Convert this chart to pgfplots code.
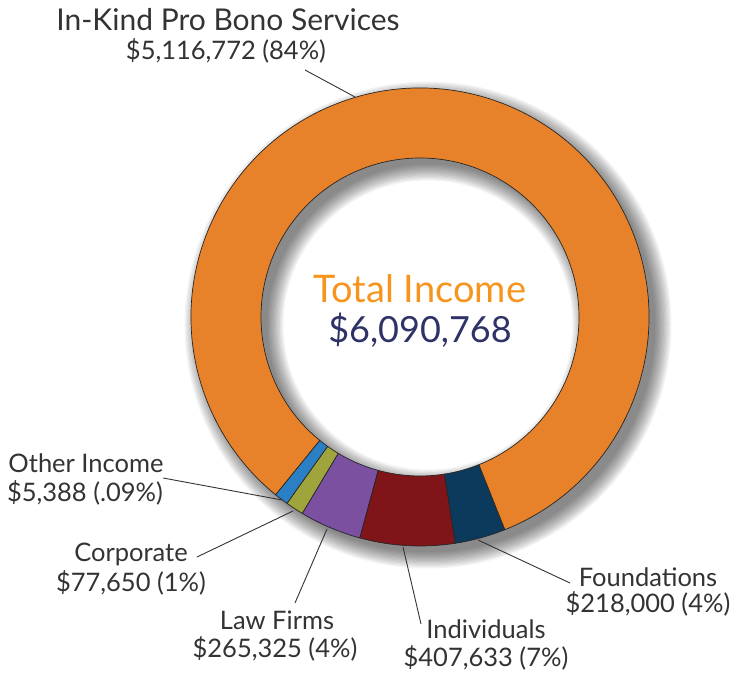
\documentclass[border=0pt]{standalone}
\usepackage{pgfplots}
\pgfplotsset{compat=1.18}
\usepackage{pgfplotstable}
\usepackage{fontspec}
\setmainfont{Lato}

\definecolor{cKind}{HTML}{E8822A}
\definecolor{cFound}{HTML}{0B3A5C}
\definecolor{cInd}{HTML}{7F1518}
\definecolor{cLaw}{HTML}{7B50A0}
\definecolor{cCorp}{HTML}{A0A43C}
\definecolor{cOther}{HTML}{2B80C5}
\definecolor{titleorange}{HTML}{F7941E}
\definecolor{totalblue}{HTML}{2E3267}
\definecolor{labelgray}{HTML}{333333}

% income by source, counter-clockwise from "Other Income"
\pgfplotstableread[col sep=comma]{
source,value
Other,5388
Corporate,77650
LawFirms,265325
Individuals,407633
Foundations,218000
InKind,5116772
}\incometable

\def\T{6090768}
% sweep of each slice; the tiny "other" slice gets a minimum visible sweep
\pgfplotstablegetelem{0}{value}\of\incometable \let\vA\pgfplotsretval
\pgfplotstablegetelem{1}{value}\of\incometable \let\vB\pgfplotsretval
\pgfplotstablegetelem{2}{value}\of\incometable \let\vC\pgfplotsretval
\pgfplotstablegetelem{3}{value}\of\incometable \let\vD\pgfplotsretval
\pgfplotstablegetelem{4}{value}\of\incometable \let\vE\pgfplotsretval
\xdef\aA{-129.1}
\xdef\aB{\fpeval{round(\aA+max(\vA/\T*360,3.6),3)}}
\xdef\aC{\fpeval{round(\aB+\vB/\T*360,3)}}
\xdef\aD{\fpeval{round(\aC+\vC/\T*360,3)}}
\xdef\aE{\fpeval{round(\aD+\vD/\T*360,3)}}
\xdef\aF{\fpeval{round(\aE+\vE/\T*360,3)}}
\xdef\aG{\fpeval{round(\aA+360,3)}}

\newcommand\seg[3]{%
  \fill[#1, draw=black!85, line width=0.7bp]
    ([shift={(#2:229bp)}]axis cs:420,358) arc[start angle=#2, end angle=#3, radius=229bp]
    -- ([shift={(#3:159bp)}]axis cs:420,358) arc[start angle=#3, end angle=#2, radius=159bp]
    -- cycle;}

\begin{document}
\begin{tikzpicture}[
  lab/.style={text=labelgray, anchor=base, inner sep=0pt,
    font=\fontsize{25.5bp}{29bp}\selectfont},
  lead/.style={draw=labelgray, line width=0.9bp},
]
\begin{axis}[
  x=1bp, y=1bp,
  xmin=0, xmax=730, ymin=0, ymax=675,
  enlargelimits=false,
  hide axis, clip=false,
]
\coordinate (bbSW) at (axis cs:0,0);
\coordinate (bbNE) at (axis cs:730,675);

% soft drop shadow of the ring
\pgfplotsinvokeforeach{1,...,14}{
  \draw[black, opacity=0.045, line width=(64+2.5*#1)*1bp] (axis cs:428,350) circle[radius=194bp];
}

\seg{cOther}{\aA}{\aB}
\seg{cCorp}{\aB}{\aC}
\seg{cLaw}{\aC}{\aD}
\seg{cInd}{\aD}{\aE}
\seg{cFound}{\aE}{\aF}
\seg{cKind}{\aF}{\aG}

% centre
\node[anchor=base, inner sep=0pt, text=titleorange, font=\fontsize{38bp}{40bp}\selectfont]
  at (axis cs:420,372) {Total Income};
\node[anchor=base, inner sep=0pt, text=totalblue, font=\fontsize{36bp}{40bp}\selectfont]
  at (axis cs:420,332) {\$6,090,768};

% labels and leaders
\draw[lead] (axis cs:305,605) -- (axis cs:355,578);
\node[lab, font=\fontsize{30bp}{34bp}\selectfont] at (axis cs:228,644) {In-Kind Pro Bono Services};
\node[lab] at (axis cs:226,615) {\$5,116,772 (84\%)};

\draw[lead] (axis cs:163,197) -- (axis cs:282,175);
\node[lab] at (axis cs:86,202) {Other Income};
\node[lab] at (axis cs:85,173) {\$5,388 (.09\%)};

\draw[lead] (axis cs:197,118) -- (axis cs:293,164);
\node[lab] at (axis cs:131,113) {Corporate};
\node[lab] at (axis cs:131,83) {\$77,650 (1\%)};

\draw[lead] (axis cs:295,72) -- (axis cs:327,146);
\node[lab] at (axis cs:277,45) {Law Firms};
\node[lab] at (axis cs:275,17) {\$265,325 (4\%)};

\draw[lead] (axis cs:421,51) -- (axis cs:403,128);
\node[lab] at (axis cs:486,36) {Individuals};
\node[lab] at (axis cs:486,8) {\$407,633 (7\%)};

\draw[lead] (axis cs:570,92) -- (axis cs:478,135);
\node[lab] at (axis cs:648,88) {Foundations};
\node[lab] at (axis cs:648,62) {\$218,000 (4\%)};
\end{axis}
\pgfresetboundingbox
\path[use as bounding box] (bbSW) rectangle (bbNE);
\end{tikzpicture}
\end{document}
